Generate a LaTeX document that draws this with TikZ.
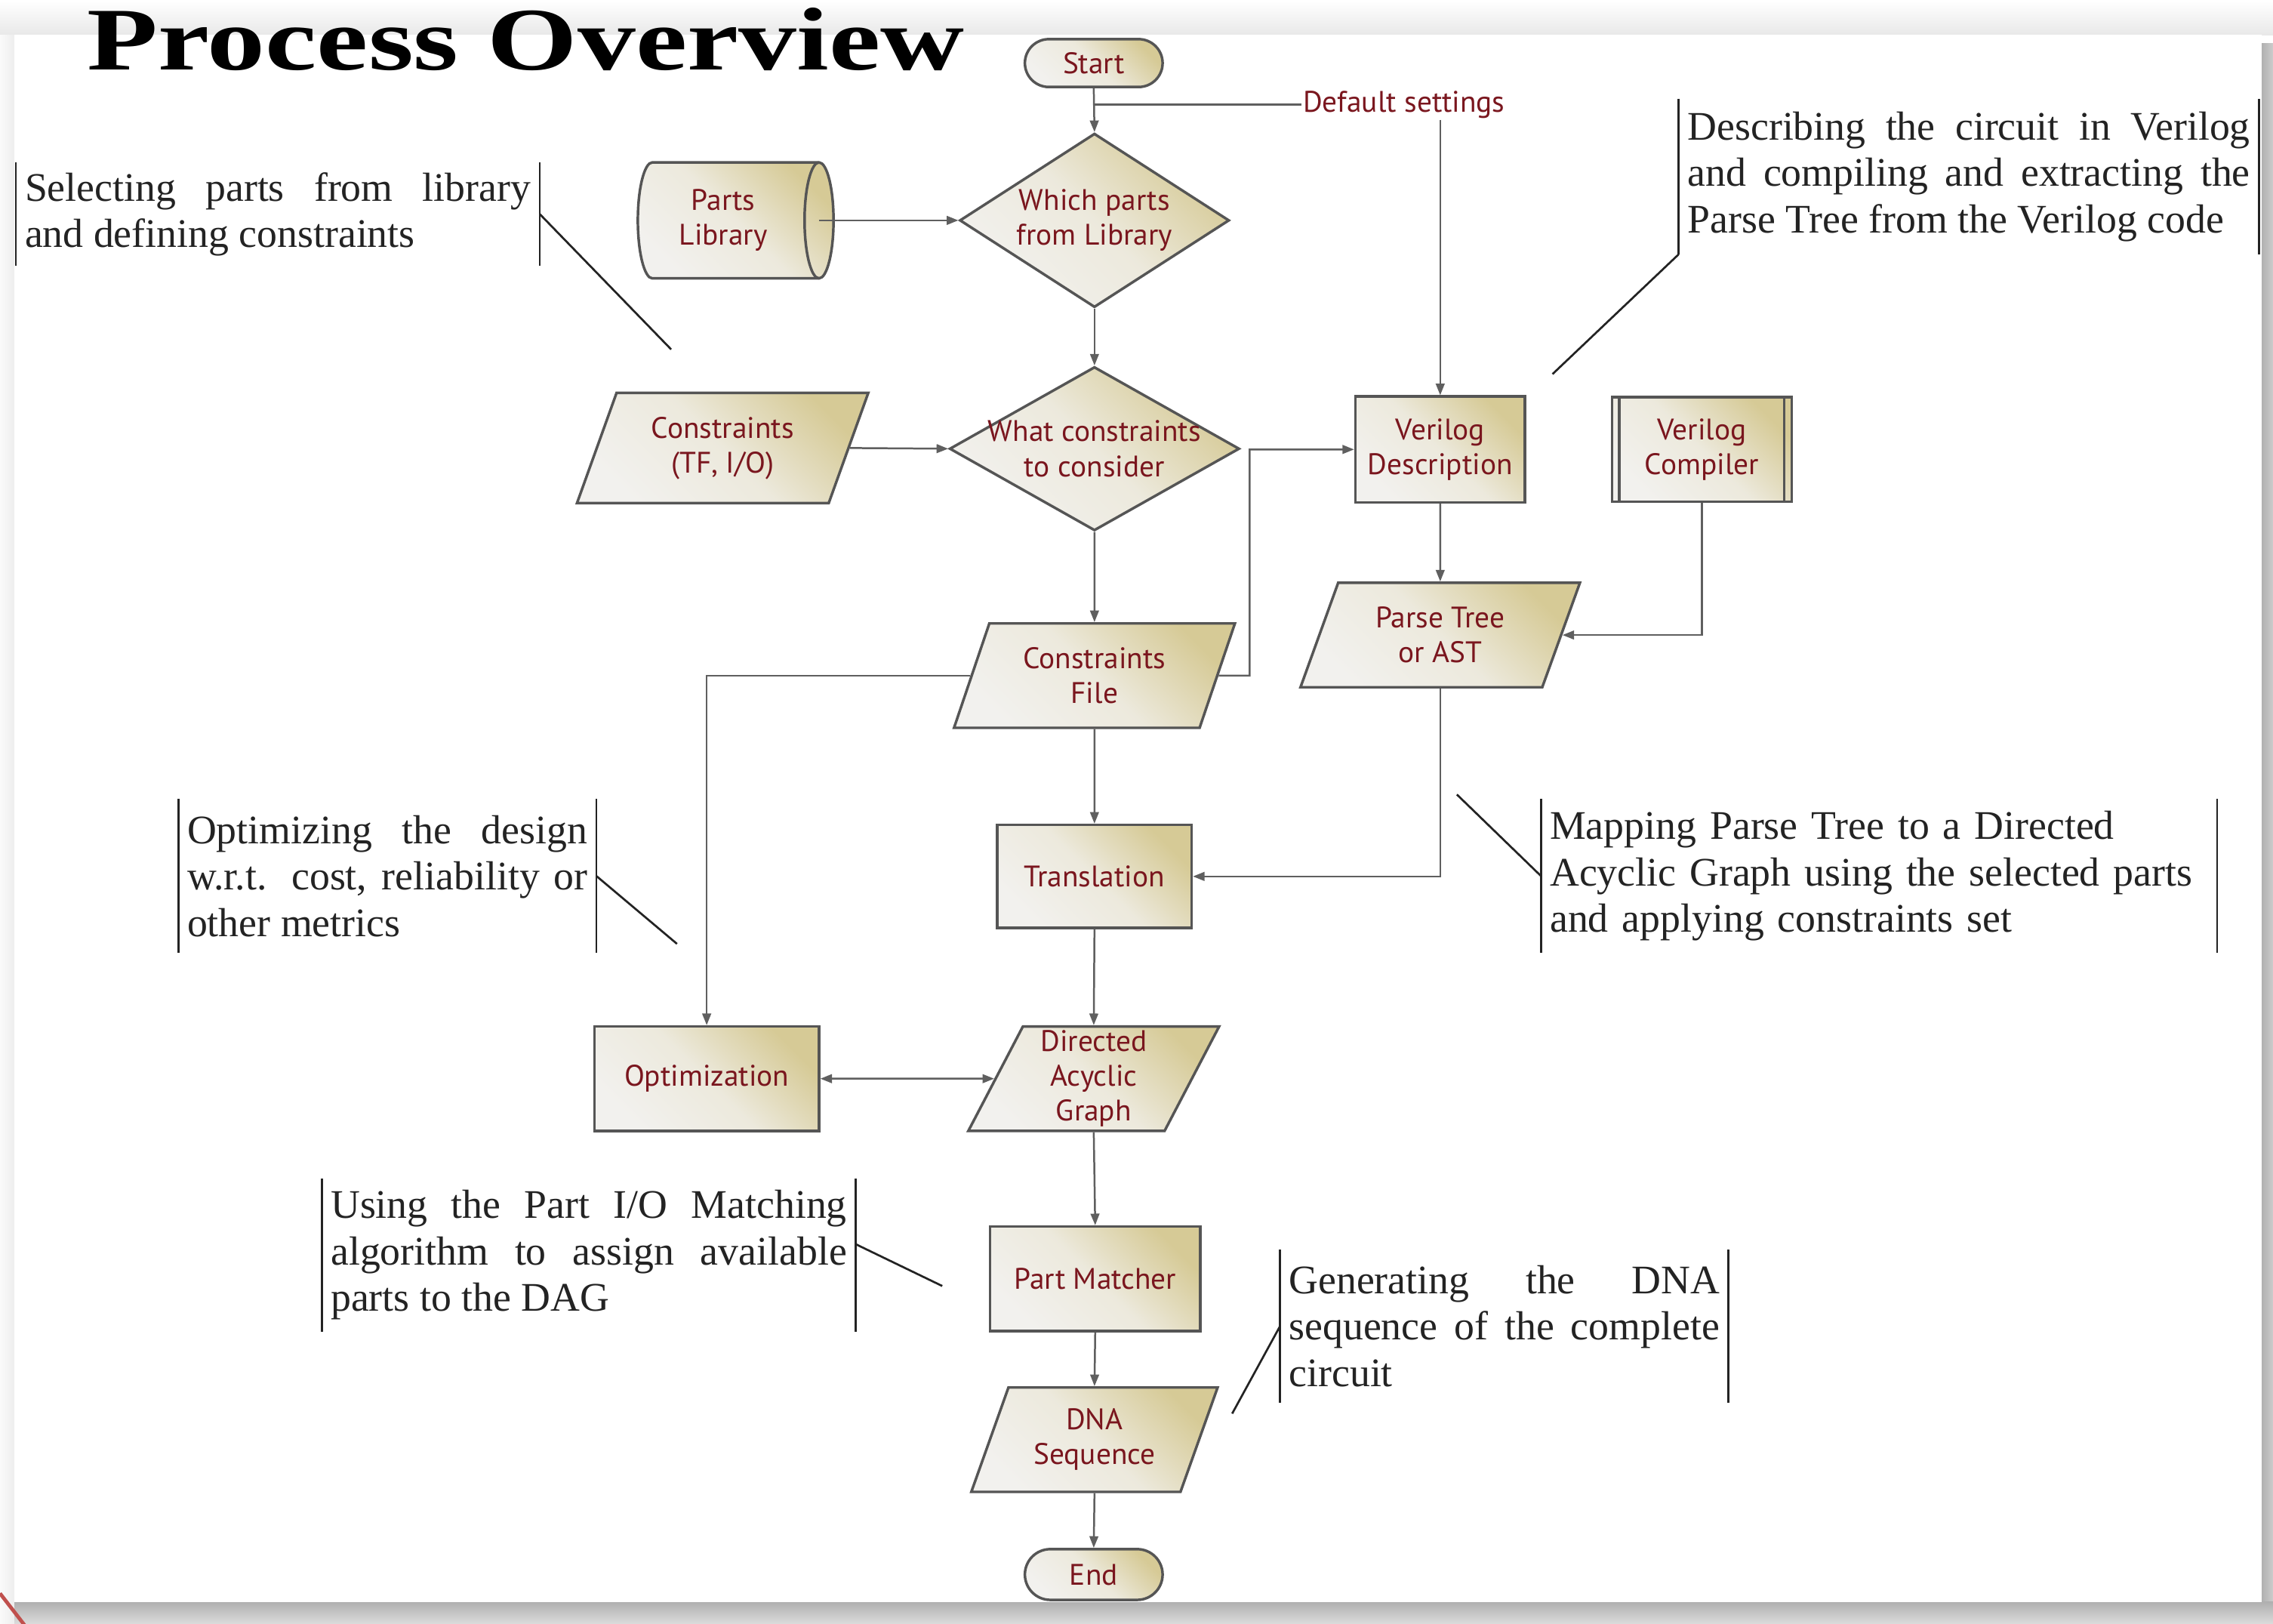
\documentclass[tikz,border=0pt]{standalone}
\usepackage{fontspec}
\setmainfont{Liberation Serif}
\newfontfamily\ndfont{PT Sans}
\usetikzlibrary{shapes.geometric,shapes.misc,arrows.meta}
\definecolor{tanc}{RGB}{214,202,150}
\definecolor{lightc}{RGB}{242,241,238}
\definecolor{redc}{RGB}{122,22,30}
\definecolor{bordc}{RGB}{85,85,85}
\definecolor{linec}{RGB}{95,95,95}
\definecolor{annc}{RGB}{35,35,35}
\definecolor{redln}{RGB}{192,80,77}
\begin{document}
\begin{tikzpicture}[x=1pt,y=-1pt,
  ntext/.style={text=redc, font=\ndfont\fontsize{20.5}{24}\selectfont, align=center},
  nodebox/.style={ntext, draw=bordc, line width=1.8pt, top color=tanc, bottom color=lightc, middle color=lightc!80!tanc, shading angle=-45, inner sep=0pt},
  rectbox/.style={nodebox, rectangle},
  parabox/.style={nodebox, trapezium, trapezium left angle=67, trapezium right angle=113, trapezium stretches=true},
  diabox/.style={nodebox, diamond},
  termbox/.style={nodebox, rounded rectangle},
  conn/.style={draw=linec, line width=1.3pt, -{Triangle[length=8pt,width=6pt]}},
  plainln/.style={draw=linec, line width=1.3pt},
  annot/.style={text=annc, font=\fontsize{28}{32}\selectfont, anchor=north west, inner xsep=6pt, inner ysep=0pt},
  barln/.style={draw=annc, line width=1.4pt},
]
% background / slide frame
\useasboundingbox (0,0) rectangle (1568,1120);
\fill[white] (0,0) rectangle (1568,1120);
\shade[top color=white, bottom color=gray!18] (0,0) rectangle (1568,24);
\shade[left color=gray!4, right color=gray!14] (0,24) rectangle (10,1120);
\shade[left color=gray!62, right color=gray!40] (1560,30) rectangle (1568,1120);
\shade[top color=gray!62, bottom color=gray!28] (10,1105) rectangle (1568,1120);
\fill[white] (10,24) rectangle (1560,1105);
\draw[redln, line width=2.5pt] (0,1099) -- (17,1121);

% title
\node[anchor=base west, inner sep=0pt, font=\fontsize{80}{80}\selectfont\bfseries] (title) at (60,48) {\scalebox{1}[0.77]{Process Overview}};

% flowchart nodes
\node[termbox, minimum width=95pt, minimum height=33pt] (start) at (754.5,43.5) {Start};
\node[ntext, inner sep=1pt] (deflt) at (968.5,72) {Default settings};
\node[diabox, minimum width=186pt, minimum height=120pt, label={[ntext]center:Which parts\\from Library}] (which) at (755,152) {};

\coordinate (libc) at (499,152);
\begin{scope}[shift={(libc)}]
 \shade[draw=bordc, line width=1.8pt, top color=tanc, bottom color=lightc, middle color=lightc!80!tanc, shading angle=-45]
   (-49,-40) -- (66,-40) .. controls (71.5,-40) and (76,-22) .. (76,0) .. controls (76,22) and (71.5,40) .. (66,40) -- (-49,40) .. controls (-54.5,40) and (-59,22) .. (-59,0) .. controls (-59,-22) and (-54.5,-40) .. (-49,-40) -- cycle;
 \draw[bordc, line width=1.8pt] (66,-40) .. controls (60.5,-40) and (56,-22) .. (56,0) .. controls (56,22) and (60.5,40) .. (66,40);
 \coordinate (libR) at (66,0);
\end{scope}
\node[ntext] (lib) at (libc) {Parts\\Library};

\node[diabox, minimum width=200pt, minimum height=113pt, label={[ntext]center:What constraints\\to consider}] (what) at (755,309.5) {};
\node[parabox, minimum width=201pt, minimum height=76pt] (cons) at (498.5,309) {Constraints\\(TF, I/O)};
\node[parabox, minimum width=194pt, minimum height=72pt] (cfile) at (755,466) {Constraints\\File};
\node[rectbox, minimum width=117pt, minimum height=73pt] (vdesc) at (993.5,310) {Verilog\\Description};
\node[rectbox, minimum width=124pt, minimum height=72pt] (vcomp) at (1174,310) {Verilog\\Compiler};
\draw[bordc, line width=1.8pt] ([xshift=6pt]vcomp.north west) -- ([xshift=6pt]vcomp.south west)
  ([xshift=-6pt]vcomp.north east) -- ([xshift=-6pt]vcomp.south east);
\node[parabox, minimum width=193pt, minimum height=72pt] (ptree) at (993.5,438) {Parse Tree\\or AST};
\node[rectbox, minimum width=134pt, minimum height=71pt] (trans) at (755,604.5) {Translation};
\node[parabox, minimum width=173pt, minimum height=72pt] (dag) at (754.5,744) {Directed\\Acyclic\\Graph};
\node[rectbox, minimum width=155pt, minimum height=72pt] (optim) at (487.5,744) {Optimization};
\node[rectbox, minimum width=145pt, minimum height=72pt] (pm) at (755.5,882) {Part Matcher};
\node[parabox, minimum width=170pt, minimum height=72pt] (dna) at (755,993) {DNA\\Sequence};
\node[termbox, minimum width=95pt, minimum height=35pt] (endn) at (754.5,1086) {End};

% connectors
\coordinate (dsplit) at (755,72);
\coordinate (c1) at (862,466);
\draw[conn] (start.south) -- (which.north);
\draw[plainln] (dsplit) -- (deflt.west);
\draw[conn] (deflt.south -| vdesc.north) -- (vdesc.north);
\draw[conn] (libR) -- (which.west);
\draw[conn] (which.south) -- (what.north);
\draw[conn] (cons.east) -- (what.west);
\draw[conn] (what.south) -- (cfile.north);
\draw[conn] (cfile.east) -- (c1) |- (vdesc.west);
\draw[conn] (cfile.west) -| (optim.north);
\draw[conn] (cfile.south) -- (trans.north);
\draw[conn] (vdesc.south) -- (ptree.north);
\draw[conn] (vcomp.south) |- (ptree.east);
\draw[conn] (ptree.south) |- (trans.east);
\draw[conn] (trans.south) -- (dag.north);
\draw[conn, {Triangle[length=8pt,width=6pt]}-{Triangle[length=8pt,width=6pt]}] (optim.east) -- (dag.west);
\draw[conn] (dag.south) -- (pm.north);
\draw[conn] (pm.south) -- (dna.north);
\draw[conn] (dna.south) -- (endn.north);

% annotations
\node[annot, text width=349pt, minimum height=71pt, align=justify] (a1) at (11,112) {Selecting parts from library\linebreak and defining constraints};
\node[annot, text width=388pt, minimum height=107pt, align=justify] (a2) at (1158,68) {Describing the circuit in Verilog\linebreak and compiling and extracting the\linebreak Parse Tree from the Verilog code};
\node[annot, text width=276pt, minimum height=106pt, align=justify] (a3) at (123,551) {Optimizing the design\linebreak w.r.t. cost, reliability or\linebreak other metrics};
\node[annot, text width=454pt, minimum height=106pt, align=left] (a4) at (1063,551) {Mapping Parse Tree to a Directed\\Acyclic Graph using the selected parts\\and applying constraints set};
\node[annot, text width=356pt, minimum height=105pt, align=justify] (a5) at (222,813) {Using the Part I/O Matching\linebreak algorithm to assign available\linebreak parts to the DAG};
\node[annot, text width=297pt, minimum height=105pt, align=justify] (a6) at (883,862) {Generating the DNA\linebreak sequence of the complete\linebreak circuit};

\foreach \a in {a1,a2,a3,a4,a5,a6} {
  \draw[barln] (\a.north west) -- (\a.south west);
  \draw[barln] (\a.north east) -- (\a.south east);
}
\coordinate (l1) at (463,241);
\coordinate (l2) at (1071,258);
\coordinate (l3) at (467,651);
\coordinate (l4) at (1005,548);
\coordinate (l5) at (650,887);
\coordinate (l6) at (850,975);
\draw[barln] (a1.east) -- (l1);
\draw[barln] (a2.south west) -- (l2);
\draw[barln] (a3.east) -- (l3);
\draw[barln] (a4.west) -- (l4);
\draw[barln] ([yshift=7.5pt]a5.east) -- (l5);
\draw[barln] (a6.west) -- (l6);
\end{tikzpicture}
\end{document}
